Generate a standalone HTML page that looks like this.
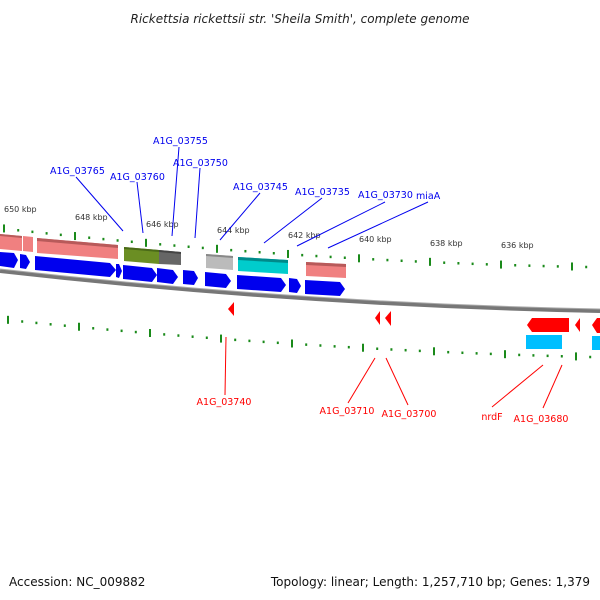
<!DOCTYPE html>
<html><head><style>
html,body{margin:0;padding:0;background:#fff;width:600px;height:600px;overflow:hidden}
svg text{font-family:"DejaVu Sans","Liberation Sans",sans-serif}
</style></head><body>
<svg width="600" height="600" viewBox="0 0 600 600" xmlns="http://www.w3.org/2000/svg">
<text x="300" y="23" text-anchor="middle" font-size="12" font-style="italic" fill="#222">Rickettsia rickettsii str. 'Sheila Smith', complete genome</text>
<text x="9" y="586" font-size="12" fill="#111">Accession: NC_009882</text>
<text x="590" y="586" text-anchor="end" font-size="12" fill="#111">Topology: linear; Length: 1,257,710 bp; Genes: 1,379</text>

<path d="M0,271 Q300,305 600,311" stroke="#777" stroke-width="4" fill="none"/>
<path d="M0,269 Q300,303 600,309" stroke="#aaa" stroke-width="1" fill="none"/>

<g fill="#1a8a1a" id="topdots"></g>
<g fill="#1a8a1a" id="botdots"></g>

<g font-size="8" fill="#333">
<text x="4" y="212">650 kbp</text>
<text x="75" y="220">648 kbp</text>
<text x="146" y="227">646 kbp</text>
<text x="217" y="233">644 kbp</text>
<text x="288" y="238">642 kbp</text>
<text x="359" y="242">640 kbp</text>
<text x="430" y="246">638 kbp</text>
<text x="501" y="248">636 kbp</text>
</g>

<polygon points="0,234 22,236 22,251 0,249" fill="#f08080"/>
<polygon points="0,234 22,236 22,238 0,236" fill="#b85a5a"/>
<polygon points="23,236 33,237 33,252 23,251" fill="#f08080"/>
<polygon points="37,238 118,245 118,259 37,253" fill="#f08080"/>
<polygon points="37,238 118,245 118,248 37,241" fill="#b85a5a"/>
<polygon points="124,247 159,250 159,264 124,261" fill="#6b8e23"/>
<polygon points="124,247 159,250 159,252 124,249" fill="#4a6a18"/>
<polygon points="159,250 181,252 181,265 159,264" fill="#666"/>
<polygon points="159,250 181,252 181,254 159,252" fill="#444"/>
<polygon points="206,254 233,256 233,270 206,268" fill="#bbb"/>
<polygon points="206,254 233,256 233,258 206,256" fill="#888"/>
<polygon points="238,257 288,260 288,274 238,271" fill="#00cccc"/>
<polygon points="238,257 288,260 288,263 238,260" fill="#008a8a"/>
<polygon points="306,262 346,264 346,278 306,276" fill="#f08080"/>
<polygon points="306,262 346,264 346,267 306,265" fill="#b85a5a"/>

<g fill="#0000ee">
<polygon points="0,252 14,253 18,260 14,268 0,266"/>
<polygon points="20,254 26,255 30,262 26,269 20,268"/>
<polygon points="35,256 110,263 116,270 110,277 35,270"/>
<polygon points="116,264 119,264 122,271 119,278 116,277"/>
<polygon points="123,265 152,268 157,275 152,282 123,279"/>
<polygon points="157,268 173,270 178,277 173,284 157,282"/>
<polygon points="183,270 194,271 198,278 194,285 183,284"/>
<polygon points="205,272 226,274 231,281 226,288 205,286"/>
<polygon points="237,275 281,278 286,285 281,292 237,289"/>
<polygon points="289,278 297,279 301,286 297,293 289,292"/>
<polygon points="305,280 340,282 345,289 340,296 305,294"/>
</g>

<g fill="#f00">
<polygon points="234,302 234,316 228,309"/>
<polygon points="380,311 380,325 375,318"/>
<polygon points="391,311 391,326 385,318"/>
<polygon points="532,318 569,318 569,332 532,332 527,325"/>
<polygon points="580,318 580,332 575,325"/>
<polygon points="600,318 600,333 597,333 592,325 597,318"/>
</g>
<g fill="#00bfff">
<rect x="526" y="335" width="36" height="14"/>
<rect x="592" y="336" width="8" height="14"/>
</g>

<g stroke="#0000ee" stroke-width="1">
<line x1="76" y1="177" x2="123" y2="231"/>
<line x1="137" y1="182" x2="143" y2="233"/>
<line x1="179" y1="147" x2="172" y2="236"/>
<line x1="200" y1="168" x2="195" y2="238"/>
<line x1="260" y1="193" x2="220" y2="240"/>
<line x1="322" y1="198" x2="264" y2="243"/>
<line x1="385" y1="202" x2="297" y2="246"/>
<line x1="428" y1="202" x2="328" y2="248"/>
</g>
<g font-size="9.5" fill="#0000ee">
<text x="50" y="174">A1G_03765</text>
<text x="110" y="180">A1G_03760</text>
<text x="153" y="144">A1G_03755</text>
<text x="173" y="166">A1G_03750</text>
<text x="233" y="190">A1G_03745</text>
<text x="295" y="195">A1G_03735</text>
<text x="358" y="198">A1G_03730</text>
<text x="416" y="199">miaA</text>
</g>

<g stroke="#f00" stroke-width="1">
<line x1="226" y1="337" x2="225" y2="395"/>
<line x1="375" y1="358" x2="348" y2="403"/>
<line x1="386" y1="358" x2="408" y2="405"/>
<line x1="543" y1="365" x2="492" y2="407"/>
<line x1="562" y1="365" x2="543" y2="408"/>
</g>
<g font-size="9.5" fill="#f00" text-anchor="middle">
<text x="224" y="405">A1G_03740</text>
<text x="347" y="414">A1G_03710</text>
<text x="409" y="417">A1G_03700</text>
<text x="492" y="420">nrdF</text>
<text x="541" y="422">A1G_03680</text>
</g>

<script>
(function(){
 var ns="http://www.w3.org/2000/svg";
 function curve(x,a,b,c){var t=x/600;return (1-t)*(1-t)*a+2*t*(1-t)*b+t*t*c;}
 function row(gid,a,b,c,off){
  var g=document.getElementById(gid);
  for(var i=0;i<43;i++){
   var x=off+i*14.2; if(x>600)break;
   var y=curve(x,a,b,c);
   var big=(i%5==0);
   var r=document.createElementNS(ns,"rect");
   r.setAttribute("x",x-1);r.setAttribute("width",2);
   r.setAttribute("y",big?y-4:y-1);r.setAttribute("height",big?8:2.5);
   g.appendChild(r);
  }
 }
 row("topdots",228,262,267,4);
 row("botdots",319,350,357,8);
})();
</script>
</svg>
</body></html>
